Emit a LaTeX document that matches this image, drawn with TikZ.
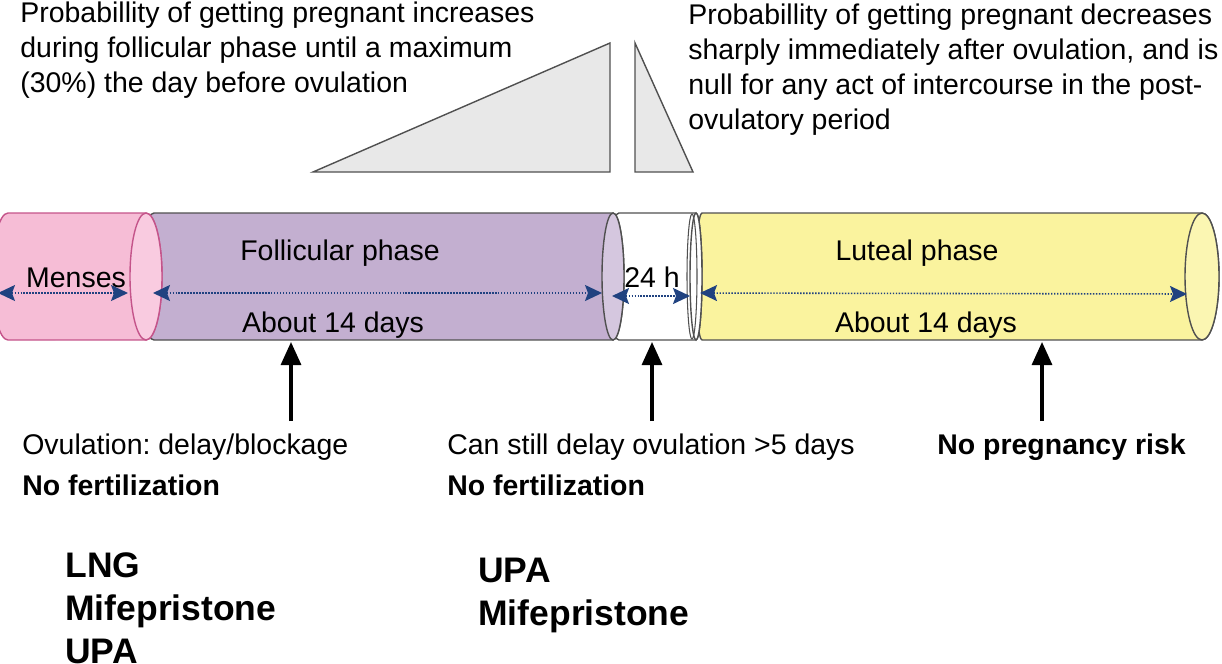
\documentclass[tikz,border=0pt]{standalone}
\usepackage{fontspec}
\setmainfont{Liberation Sans}
\usetikzlibrary{arrows.meta}
\definecolor{menspink}{RGB}{246,189,214}
\definecolor{menscap}{RGB}{249,203,224}
\definecolor{mensline}{RGB}{196,84,138}
\definecolor{follpurple}{RGB}{195,175,208}
\definecolor{follcap}{RGB}{213,199,223}
\definecolor{lutyellow}{RGB}{250,243,158}
\definecolor{lutcap}{RGB}{251,246,178}
\definecolor{cylline}{RGB}{80,80,80}
\definecolor{spanblue}{RGB}{32,66,128}
\definecolor{trigrey}{RGB}{232,232,232}

% cylinder segment: left centre, right centre, left rx, right rx, body, cap, outline
\newcommand{\cylseg}[7]{%
  \filldraw[fill=#5,draw=#7,line width=0.8pt]
    (#1,213) -- (#2,213) arc[start angle=90,end angle=-90,x radius=#4*0.02cm,y radius=1.27cm]
    -- (#1,340) arc[start angle=270,end angle=90,x radius=#3*0.02cm,y radius=1.27cm] -- cycle;
  \filldraw[fill=#6,draw=#7,line width=0.8pt] (#2,276.5) ellipse[x radius=#4*0.02cm,y radius=1.27cm];
}

\tikzset{
  lbl/.style={font=\fontsize{16.2}{19.9}\selectfont, inner sep=0pt},
  note/.style={font=\fontsize{16.2}{22.8}\selectfont, inner sep=0pt, align=left, anchor=north west},
  drug/.style={font=\fontsize{20.2}{24.5}\selectfont\bfseries, inner sep=0pt, align=left, anchor=north west},
  span/.style={spanblue, line width=0.9pt, dash pattern=on 0.8pt off 0.9pt,
    {Stealth[length=3.4mm,width=3.2mm,inset=0.6mm]}-{Stealth[length=3.4mm,width=3.2mm,inset=0.6mm]}},
  uparrow/.style={line width=1.8pt, -{Triangle[length=4.6mm,width=4mm]}},
  tri/.style={fill=trigrey, draw=cylline, line width=0.8pt}
}

\begin{document}
\frenchspacing
\begin{tikzpicture}[x=0.02cm,y=-0.02cm]
  \useasboundingbox (0,0) rectangle (1222,663);
  % Probability triangles
  \filldraw[tri] (313,172) -- (610,43) -- (610,172) -- cycle;
  \filldraw[tri] (635,43) -- (693,172) -- (635,172) -- cycle;
  % Probability notes
  \node[lbl, align=left, anchor=north west] (risehint) at (20,2)
    {Probabillity of getting pregnant increases\\during follicular phase until a maximum\\(30\%) the day before ovulation};
  \node[lbl, align=left, anchor=north west] (fallhint) at (688,4)
    {Probabillity of getting pregnant decreases\\sharply immediately after ovulation, and is\\null for any act of intercourse in the post-\\ovulatory period};
  % Cycle cylinder, drawn right to left
  \cylseg{702}{1202}{6}{17}{lutyellow}{lutcap}{cylline}
  \cylseg{619}{696}{11}{6}{white}{white}{cylline}
  \draw[cylline, line width=0.6pt] (692,276.5) ellipse[x radius=0.1cm,y radius=1.25cm];
  \cylseg{154}{613}{14}{11}{follpurple}{follcap}{cylline}
  \cylseg{8}{146}{16}{16}{menspink}{menscap}{mensline}
  % Phase labels
  \node[lbl, anchor=base] (menses) at (76,287) {Menses};
  \node[lbl, anchor=base] (follicular) at (340,260) {Follicular phase};
  \node[lbl, anchor=base] (folldays) at (333,332) {About 14 days};
  \node[lbl, anchor=base] (ovul) at (652,287) {24 h};
  \node[lbl, anchor=base] (luteal) at (917,260) {Luteal phase};
  \node[lbl, anchor=base] (lutdays) at (926,332) {About 14 days};
  % Duration spans
  \coordinate (mensL) at (-2,293);  \coordinate (mensR) at (128,293);
  \coordinate (follL) at (153,293); \coordinate (follR) at (602,293);
  \coordinate (ovulL) at (612,296); \coordinate (ovulR) at (690,296);
  \coordinate (lutL) at (700,293);  \coordinate (lutR) at (1187,294);
  \draw[span] (mensL) -- (mensR);
  \draw[span] (follL) -- (follR);
  \draw[span] (ovulL) -- (ovulR);
  \draw[span] (lutL) -- (lutR);
  % Pointers to the phases
  \coordinate (follbase) at (291,421);  \coordinate (folltip) at (291,342);
  \coordinate (ovulbase) at (652,421);  \coordinate (ovultip) at (652,342);
  \coordinate (lutbase) at (1042,421);  \coordinate (luttip) at (1042,342);
  \draw[uparrow] (follbase) -- (folltip);
  \draw[uparrow] (ovulbase) -- (ovultip);
  \draw[uparrow] (lutbase) -- (luttip);
  % Effects
  \node[note] (follnote) at (22,434) {Ovulation: delay/blockage\\\textbf{No fertilization}};
  \node[note] (ovulnote) at (447,434) {Can still delay ovulation >5 days\\\textbf{No fertilization}};
  \node[note] (lutnote) at (937,434) {\textbf{No pregnancy risk}};
  % Drugs
  \node[drug] (folldrugs) at (65,552) {LNG\\Mifepristone\\UPA};
  \node[drug] (ovuldrugs) at (478,558) {UPA\\Mifepristone};
\end{tikzpicture}
\end{document}
